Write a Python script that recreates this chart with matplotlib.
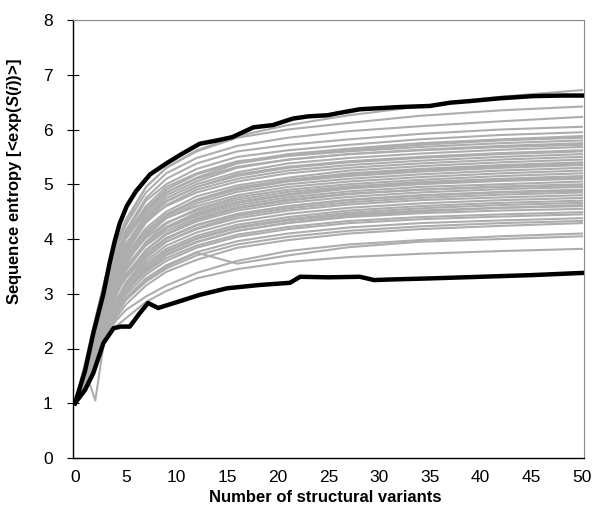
import matplotlib.pyplot as plt

plt.rcParams['font.family'] = ['Liberation Sans', 'DejaVu Sans']
plt.rcParams['mathtext.fontset'] = 'custom'
plt.rcParams['mathtext.it'] = 'Liberation Sans:bold:italic'
plt.rcParams['mathtext.rm'] = 'Liberation Sans:bold'

# black envelope curves
upper_x = [0, 1, 1.8, 2.8, 3.4, 3.9, 4.4, 5.1, 6, 7.4, 9, 10.5, 12.3, 14, 15.5, 17.6, 19.5,
           21.5, 23, 24.9, 26, 28.1, 32, 35, 37, 39, 41.9, 45.2, 48, 50]
upper_y = [1.0, 1.6, 2.28, 3.0, 3.55, 3.95, 4.28, 4.6, 4.87, 5.18, 5.38, 5.55, 5.74, 5.8, 5.86, 6.04, 6.08,
           6.2, 6.24, 6.26, 6.3, 6.37, 6.41, 6.43, 6.49, 6.52, 6.57, 6.61, 6.62, 6.62]
lower_x = [0, 1, 1.8, 2.8, 3.8, 4.5, 5.4, 6.4, 7.2, 8.2, 10.1, 12.3, 15, 18.2, 21.2, 22.2,
           25, 28.1, 29.5, 31, 35, 40, 45, 50]
lower_y = [1.0, 1.25, 1.55, 2.1, 2.37, 2.4, 2.4, 2.65, 2.83, 2.74, 2.85, 2.98, 3.1, 3.16, 3.2, 3.31,
           3.3, 3.31, 3.25, 3.26, 3.28, 3.31, 3.34, 3.38]

# grey curves, sampled at gray_x
gray_x = [0, 1, 2, 3, 4, 5, 7, 9, 12, 16, 21, 27, 34, 42, 50]
gray_curves = [
    [1.0, 1.7, 2.55, 3.3, 3.85, 4.3, 4.95, 5.3, 5.62, 5.88, 6.08, 6.26, 6.42, 6.6, 6.72],
    [1.0, 1.75, 2.5, 3.3, 3.9, 4.35, 4.95, 5.3, 5.6, 5.85, 6.0, 6.12, 6.25, 6.35, 6.42],
    [1.0, 1.6, 2.4, 3.2, 3.8, 4.25, 4.85, 5.2, 5.48, 5.7, 5.85, 5.97, 6.06, 6.15, 6.23],
    [1.0, 1.55, 2.35, 3.1, 3.7, 4.15, 4.75, 5.1, 5.38, 5.6, 5.72, 5.82, 5.92, 6.0, 6.05],
    [1.0, 1.6, 2.3, 3.05, 3.65, 4.1, 4.7, 5.0, 5.28, 5.5, 5.62, 5.72, 5.82, 5.9, 5.95],
    [1.0, 1.5, 2.2, 2.95, 3.55, 4.0, 4.55, 4.9, 5.18, 5.4, 5.55, 5.65, 5.75, 5.82, 5.88],
    [1.0, 1.5, 2.3, 3.05, 3.6, 4.0, 4.5, 4.85, 5.12, 5.38, 5.52, 5.62, 5.72, 5.8, 5.85],
    [1.0, 1.45, 2.25, 3.0, 3.6, 4.05, 4.6, 4.95, 5.2, 5.42, 5.52, 5.6, 5.68, 5.75, 5.8],
    [1.0, 1.5, 2.1, 2.85, 3.45, 3.9, 4.45, 4.8, 5.05, 5.3, 5.45, 5.55, 5.63, 5.7, 5.75],
    [1.0, 1.55, 2.3, 3.1, 3.7, 4.1, 4.55, 4.85, 5.1, 5.32, 5.45, 5.55, 5.62, 5.68, 5.72],
    [1.0, 1.4, 2.05, 2.8, 3.4, 3.85, 4.4, 4.75, 5.0, 5.22, 5.38, 5.48, 5.56, 5.63, 5.68],
    [1.0, 1.45, 2.1, 2.8, 3.4, 3.8, 4.35, 4.68, 4.95, 5.18, 5.32, 5.42, 5.5, 5.57, 5.62],
    [1.0, 1.45, 2.15, 2.9, 3.5, 3.9, 4.4, 4.7, 4.95, 5.15, 5.3, 5.4, 5.48, 5.55, 5.6],
    [1.0, 1.35, 2.0, 2.7, 3.3, 3.75, 4.3, 4.62, 4.9, 5.1, 5.25, 5.35, 5.43, 5.5, 5.55],
    [1.0, 1.5, 2.2, 2.95, 3.5, 3.9, 4.35, 4.6, 4.85, 5.05, 5.2, 5.3, 5.38, 5.45, 5.5],
    [1.0, 1.4, 2.05, 2.75, 3.3, 3.7, 4.2, 4.5, 4.78, 4.98, 5.12, 5.25, 5.33, 5.4, 5.45],
    [1.0, 1.35, 2.0, 2.7, 3.25, 3.62, 4.12, 4.45, 4.72, 4.94, 5.08, 5.2, 5.28, 5.35, 5.4],
    [1.0, 1.3, 1.95, 2.65, 3.2, 3.6, 4.1, 4.42, 4.7, 4.92, 5.06, 5.18, 5.26, 5.33, 5.38],
    [1.0, 1.45, 2.15, 2.85, 3.35, 3.7, 4.15, 4.45, 4.7, 4.9, 5.05, 5.15, 5.23, 5.3, 5.35],
    [1.0, 1.35, 1.9, 2.6, 3.15, 3.55, 4.05, 4.38, 4.65, 4.86, 5.0, 5.1, 5.18, 5.25, 5.3],
    [1.0, 1.4, 2.1, 2.8, 3.3, 3.65, 4.1, 4.38, 4.6, 4.8, 4.95, 5.05, 5.13, 5.2, 5.25],
    [1.0, 1.3, 1.85, 2.5, 3.05, 3.45, 3.95, 4.28, 4.55, 4.76, 4.9, 5.0, 5.08, 5.15, 5.2],
    [1.0, 1.45, 2.1, 2.75, 3.25, 3.6, 4.02, 4.3, 4.52, 4.72, 4.86, 4.96, 5.04, 5.1, 5.15],
    [1.0, 1.3, 1.95, 2.6, 3.1, 3.45, 3.92, 4.22, 4.48, 4.68, 4.82, 4.94, 5.02, 5.08, 5.12],
    [1.0, 1.3, 1.9, 2.55, 3.05, 3.42, 3.9, 4.2, 4.45, 4.66, 4.8, 4.92, 5.0, 5.06, 5.1],
    [1.0, 1.35, 2.0, 2.65, 3.15, 3.5, 3.92, 4.2, 4.42, 4.62, 4.76, 4.87, 4.95, 5.0, 5.05],
    [1.0, 1.25, 1.8, 2.45, 2.95, 3.32, 3.8, 4.1, 4.35, 4.56, 4.7, 4.82, 4.9, 4.96, 5.0],
    [1.0, 1.4, 2.05, 2.7, 3.15, 3.48, 3.88, 4.15, 4.38, 4.58, 4.72, 4.83, 4.9, 4.95, 4.98],
    [1.0, 1.3, 1.85, 2.5, 3.0, 3.35, 3.8, 4.08, 4.32, 4.52, 4.66, 4.77, 4.85, 4.91, 4.95],
    [1.0, 1.35, 1.95, 2.55, 3.0, 3.3, 3.72, 4.0, 4.25, 4.45, 4.6, 4.72, 4.8, 4.86, 4.9],
    [1.0, 1.45, 2.05, 2.62, 3.05, 3.35, 3.75, 4.02, 4.26, 4.46, 4.6, 4.71, 4.79, 4.85, 4.88],
    [1.0, 1.25, 1.75, 2.35, 2.85, 3.2, 3.65, 3.95, 4.2, 4.42, 4.56, 4.67, 4.75, 4.81, 4.85],
    [1.0, 1.4, 2.0, 2.6, 3.0, 3.28, 3.68, 3.95, 4.18, 4.38, 4.52, 4.63, 4.71, 4.76, 4.8],
    [1.0, 1.3, 1.8, 2.4, 2.85, 3.18, 3.6, 3.88, 4.12, 4.32, 4.46, 4.57, 4.65, 4.71, 4.75],
    [1.0, 1.35, 1.9, 2.45, 2.88, 3.15, 3.55, 3.82, 4.06, 4.26, 4.4, 4.52, 4.6, 4.66, 4.7],
    [1.0, 1.6, 1.05, 2.3, 2.7, 3.0, 3.5, 3.78, 4.02, 4.22, 4.36, 4.48, 4.56, 4.62, 4.66],
    [1.0, 1.3, 1.85, 2.35, 2.75, 3.05, 3.42, 3.7, 3.94, 4.15, 4.3, 4.42, 4.5, 4.57, 4.62],
    [1.0, 1.3, 1.85, 2.4, 2.8, 3.1, 3.5, 3.76, 4.0, 4.2, 4.34, 4.45, 4.52, 4.57, 4.6],
    [1.0, 1.25, 1.7, 2.3, 2.75, 3.05, 3.45, 3.72, 3.95, 4.15, 4.29, 4.4, 4.47, 4.52, 4.55],
    [1.0, 1.35, 1.9, 2.4, 2.78, 3.05, 3.4, 3.65, 3.88, 4.08, 4.22, 4.33, 4.4, 4.45, 4.49],
    [1.0, 1.25, 1.75, 2.3, 2.7, 2.98, 3.35, 3.6, 3.84, 4.04, 4.18, 4.29, 4.36, 4.41, 4.45],
    [1.0, 1.3, 1.8, 2.3, 2.65, 2.92, 3.28, 3.52, 3.76, 3.96, 4.1, 4.21, 4.29, 4.34, 4.38],
    [1.0, 1.2, 1.65, 2.2, 2.6, 2.88, 3.22, 3.46, 3.7, 3.9, 4.04, 4.15, 4.23, 4.29, 4.33],
    [1.0, 1.3, 1.8, 2.25, 2.55, 2.8, 3.15, 3.4, 3.62, 3.84, 3.98, 4.1, 4.18, 4.24, 4.29],
    [1.0, 1.3, 1.8, 2.3, 2.65, 2.9, 3.25, 3.5, 3.75, 3.55, 3.7, 3.85, 3.95, 4.0, 4.05],
    [1.0, 1.35, 1.8, 2.2, 2.5, 2.7, 2.95, 3.15, 3.38, 3.6, 3.78, 3.9, 3.98, 4.05, 4.1],
    [1.0, 1.3, 1.7, 2.15, 2.4, 2.55, 2.85, 3.05, 3.28, 3.45, 3.58, 3.67, 3.73, 3.78, 3.82],
]

y_ticks = [0, 1, 2, 3, 4, 5, 6, 7, 8]
x_ticks = [0, 5, 10, 15, 20, 25, 30, 35, 40, 45, 50]

fig = plt.figure(figsize=(5.92, 5.24), dpi=100)
ax = fig.add_axes([73 / 592, 66 / 524, 511 / 592, 438 / 524])

for ys in gray_curves:
    ax.plot(gray_x, ys, color='#adadad', lw=1.5, solid_joinstyle='round')
ax.plot(upper_x, upper_y, color='black', lw=3.2, solid_joinstyle='round')
ax.plot(lower_x, lower_y, color='black', lw=3.2, solid_joinstyle='round')

ax.set_xlim(-0.2, 50.2)
ax.set_ylim(0, 8)
ax.set_xticks(x_ticks)
ax.set_yticks(y_ticks)
ax.tick_params(axis='x', length=0, pad=9, labelsize=12.5)
ax.tick_params(axis='y', direction='inout', length=9, width=0.8, pad=10, labelsize=12.5)

for side in ['top', 'right']:
    ax.spines[side].set_color('#888888')
    ax.spines[side].set_linewidth(0.8)
for side in ['left', 'bottom']:
    ax.spines[side].set_linewidth(1.0)

fig.text(15 / 592, 1 - 182 / 524, r'Sequence entropy [<exp($S$($i$))>]', rotation=90,
         ha='center', va='center', fontsize=12, fontweight='bold')
fig.text(325 / 592, 1 - 497 / 524, 'Number of structural variants',
         ha='center', va='center', fontsize=12, fontweight='bold')

fig.savefig('out.png', dpi=100)
